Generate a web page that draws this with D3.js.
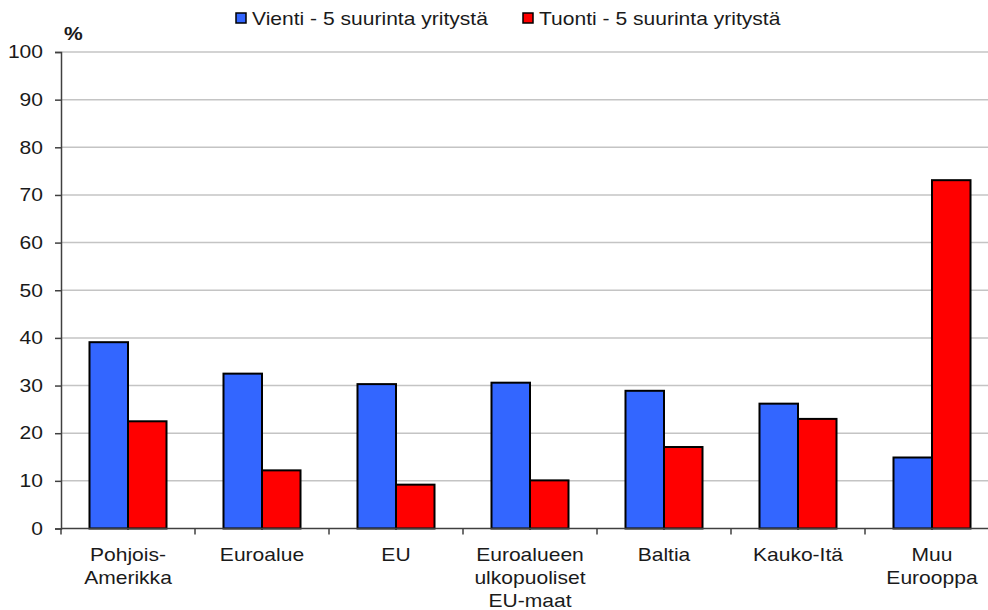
<!DOCTYPE html>
<html>
<head>
<meta charset="utf-8">
<script src="https://cdn.jsdelivr.net/npm/d3@7"></script>
<style>
  body { margin: 0; background: #fff; }
  svg { display: block; font-family: "Liberation Sans", Arial, sans-serif; }
</style>
</head>
<body>
<div id="chart"></div>
<script>
// categories (line breaks as in the original labels)
const categories = [
  ["Pohjois-", "Amerikka"],
  ["Euroalue"],
  ["EU"],
  ["Euroalueen", "ulkopuoliset", "EU-maat"],
  ["Baltia"],
  ["Kauko-Itä"],
  ["Muu", "Eurooppa"]
];
const seriesNames = ["Vienti - 5 suurinta yritystä", "Tuonti - 5 suurinta yritystä"];
const vienti = [39.1, 32.5, 30.3, 30.6, 28.9, 26.2, 14.9];
const tuonti = [22.5, 12.2, 9.2, 10.1, 17.1, 23.0, 73.1];
const yTicks = [0, 10, 20, 30, 40, 50, 60, 70, 80, 90, 100];

const width = 988, height = 610;
const margin = { left: 61, top: 52, bottom: 82 };
const plotRight = 999; // last category runs slightly past the picture edge
const fontSize = "18px";
const stretch = 1.17; // the original text is a bit wider than the font

const svg = d3.select("#chart").append("svg")
  .attr("width", width)
  .attr("height", height);

// widen text horizontally around its anchor x
function widen(sel) {
  sel.attr("transform", function() {
    const ax = +this.getAttribute("x") || 0;
    return `translate(${ax},0) scale(${stretch},1) translate(${-ax},0)`;
  });
}

const keys = categories.map(c => c.join(" "));
const data = keys.map((k, i) => ({ key: k, values: [vienti[i], tuonti[i]] }));

const x = d3.scaleBand()
  .domain(keys)
  .range([margin.left, plotRight])
  .paddingInner(0)
  .paddingOuter(0);

const xs = d3.scaleBand()
  .domain([0, 1])
  .range([0, x.bandwidth()])
  .paddingInner(0)
  .paddingOuter(0.74);

const y = d3.scaleLinear()
  .domain([0, 100])
  .range([height - margin.bottom + 0.5, margin.top]);

const color = d3.scaleOrdinal().domain([0, 1]).range(["#3366FF", "#FF0000"]);

// gridlines
svg.append("g")
  .selectAll("line")
  .data(yTicks.filter(t => t > 0))
  .enter().append("line")
  .attr("x1", margin.left)
  .attr("x2", width)
  .attr("y1", d => y(d))
  .attr("y2", d => y(d))
  .attr("stroke", "#c4c4c4")
  .attr("stroke-width", 1.5);

// y axis
const yAxis = svg.append("g")
  .attr("transform", `translate(${margin.left},0)`)
  .call(d3.axisLeft(y).tickValues(yTicks).tickSize(6).tickPadding(12));
yAxis.select(".domain").attr("stroke", "#404040").attr("stroke-width", 1.5);
yAxis.selectAll(".tick line").attr("stroke", "#404040").attr("stroke-width", 1.5);
yAxis.selectAll("text")
  .attr("fill", "#1a1a1a")
  .style("font-size", fontSize)
  .style("font-family", "Liberation Sans, Arial, sans-serif")
  .call(widen);

// bars
const groups = svg.append("g")
  .selectAll("g")
  .data(data)
  .enter().append("g")
  .attr("transform", d => `translate(${x(d.key)},0)`);

groups.selectAll("rect")
  .data(d => d.values.map((v, i) => ({ i, v })))
  .enter().append("rect")
  .attr("x", d => xs(d.i))
  .attr("width", xs.bandwidth())
  .attr("y", d => y(d.v))
  .attr("height", d => y(0) - y(d.v))
  .attr("fill", d => color(d.i))
  .attr("stroke", "#000")
  .attr("stroke-width", 2);

// x axis
svg.append("line")
  .attr("x1", margin.left)
  .attr("x2", width)
  .attr("y1", y(0))
  .attr("y2", y(0))
  .attr("stroke", "#404040")
  .attr("stroke-width", 1.5);

svg.append("g")
  .selectAll("line")
  .data(keys)
  .enter().append("line")
  .attr("x1", d => x(d))
  .attr("x2", d => x(d))
  .attr("y1", y(0))
  .attr("y2", y(0) + 6)
  .attr("stroke", "#404040")
  .attr("stroke-width", 1.5);

const labels = svg.append("g")
  .selectAll("text")
  .data(categories)
  .enter().append("text")
  .attr("x", (d, i) => x(keys[i]) + x.bandwidth() / 2)
  .attr("y", y(0) + 33)
  .attr("text-anchor", "middle")
  .attr("fill", "#1a1a1a")
  .style("font-size", fontSize)
  .call(widen);

labels.selectAll("tspan")
  .data(d => d)
  .enter().append("tspan")
  .attr("x", function() { return this.parentNode.getAttribute("x"); })
  .attr("dy", (d, i) => i === 0 ? 0 : 23)
  .text(d => d);

// "%" label
svg.append("text")
  .attr("x", 64)
  .attr("y", 40)
  .attr("fill", "#1a1a1a")
  .style("font-size", fontSize)
  .style("font-weight", "bold")
  .text("%")
  .call(widen);

// legend
const legendX = [236, 523];
const legend = svg.append("g")
  .selectAll("g")
  .data(seriesNames)
  .enter().append("g")
  .attr("transform", (d, i) => `translate(${legendX[i]},13)`);

legend.append("rect")
  .attr("width", 10)
  .attr("height", 10)
  .attr("fill", (d, i) => color(i))
  .attr("stroke", "#000")
  .attr("stroke-width", 1.5);

legend.append("text")
  .attr("x", 16)
  .attr("y", 12)
  .attr("fill", "#1a1a1a")
  .style("font-size", fontSize)
  .text(d => d)
  .call(widen);
</script>
</body>
</html>
